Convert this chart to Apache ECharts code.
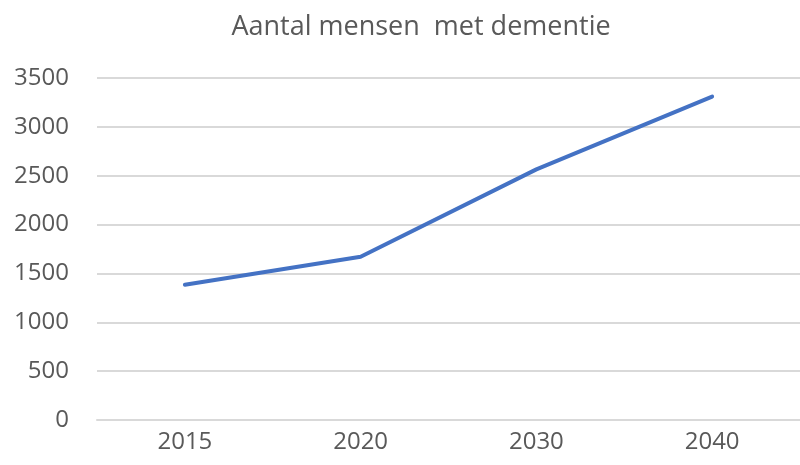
<!DOCTYPE html>
<html>
<head>
<meta charset="utf-8">
<script src="https://cdn.jsdelivr.net/npm/echarts@6/dist/echarts.min.js"></script>
<style>
  html, body { margin: 0; padding: 0; background: #fff; }
  #chart { width: 800px; height: 465px; }
</style>
</head>
<body>
<div id="chart"></div>
<script>
const years = ['2015', '2020', '2030', '2040']
const aantal = [1385, 1670, 2565, 3310]
const yTicks = { min: 0, max: 3500, interval: 500 }

const chart = echarts.init(document.getElementById('chart'))
chart.setOption({
  animation: false,
  title: {
    text: 'Aantal mensen  met dementie',
    left: 416,
    textAlign: 'center',
    top: 9,
    textStyle: {
      fontFamily: 'Open Sans',
      fontSize: 27,
      fontWeight: 'normal',
      color: '#595959'
    }
  },
  grid: {
    left: 97,
    top: 78,
    width: 708,
    height: 342,
    containLabel: false
  },
  xAxis: {
    type: 'category',
    data: years,
    boundaryGap: true,
    axisLine: { lineStyle: { color: '#d9d9d9', width: 2 } },
    axisTick: { show: false },
    axisLabel: {
      color: '#595959',
      fontFamily: 'Open Sans',
      fontSize: 24,
      margin: 10
    }
  },
  yAxis: {
    type: 'value',
    min: yTicks.min,
    max: yTicks.max,
    interval: yTicks.interval,
    axisLine: { show: false },
    axisTick: { show: false },
    splitLine: { lineStyle: { color: '#d9d9d9', width: 2 } },
    axisLabel: {
      color: '#595959',
      fontFamily: 'Open Sans',
      fontSize: 24,
      margin: 28,
      formatter: v => String(v)
    }
  },
  series: [{
    name: 'Aantal',
    type: 'line',
    data: aantal,
    showSymbol: false,
    lineStyle: { color: '#4472C4', width: 4, cap: 'round', join: 'round' }
  }]
})
</script>
</body>
</html>
